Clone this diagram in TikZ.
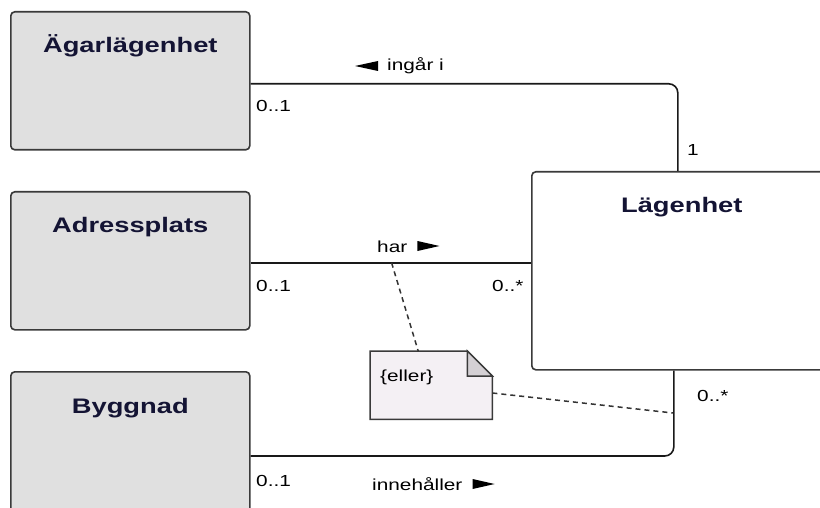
\documentclass[tikz,border=0pt]{standalone}
\usepackage{fontspec}
\setmainfont{Liberation Sans}
\newfontfamily\labfont[FakeStretch=1.3]{Liberation Sans}
\usetikzlibrary{calc}
\definecolor{boxfill}{HTML}{E0E0E0}
\definecolor{boxline}{HTML}{3A3A3A}
\definecolor{notefill}{HTML}{F4F0F4}
\definecolor{foldfill}{HTML}{D4D0D4}
\definecolor{titlecol}{HTML}{141434}
\begin{document}
\begin{tikzpicture}[x=1pt,y=-1pt,
  classbox/.style={draw=boxline, line width=1.6pt, fill=boxfill, rounded corners=4pt,
    minimum width=239pt, minimum height=138pt, inner sep=0pt, anchor=north west},
  title/.style={font=\labfont\bfseries\fontsize{21}{24}\selectfont, text=titlecol, anchor=base, inner sep=0pt},
  conn/.style={line width=1.6pt, black!90, rounded corners=9pt},
  mult/.style={font=\labfont\fontsize{16}{18}\selectfont, anchor=base west, inner sep=0pt, text=black},
  notedash/.style={dash pattern=on 5pt off 4pt, line width=1.5pt, black!80},
  noteline/.style={draw=boxline, line width=1.5pt}]
\useasboundingbox (0,0) rectangle (820,508);
% classes
\node[classbox] (agar) at (10,11) {};
\node[title] at ($(agar.north)+(0,42)$) {Ägarlägenhet};
\node[classbox] (adr) at (10,191) {};
\node[title] at ($(adr.north)+(0,42)$) {Adressplats};
\node[classbox, minimum height=150pt] (byg) at (10,371) {};
\node[title] at ($(byg.north)+(0,42)$) {Byggnad};
\node[classbox, fill=white, minimum width=300pt, minimum height=198pt] (lag) at (531,171) {};
\node[title] at ($(lag.north)+(0,42)$) {Lägenhet};
% connectors
\coordinate (a1) at ([yshift=-3pt]agar.east);
\draw[conn] (a1) -| ([xshift=-4pt]lag.north);
\coordinate (a2) at ([yshift=-2pt]adr.east);
\draw[conn] (a2) -- (a2 -| lag.west);
\coordinate (a3) at ($(byg.north east)+(0,85)$);
\draw[conn] (a3) -| ([xshift=-8pt]lag.south);
\coordinate (h1) at ($(a2)+(141,0)$);
\coordinate (c3) at (673,413);
% labels
\node[mult] (lab1) at (387,71) {ingår i};
\fill[shift={(lab1.base west)}] (-9,-10) -- (-32,-5) -- (-9,0) -- cycle;
\node[mult] (lab2) at (377,252) {har};
\fill[shift={(lab2.base east)}] (10,-11) -- (32,-6) -- (10,-1) -- cycle;
\node[mult] (lab3) at (372,490) {innehåller};
\fill[shift={(lab3.base east)}] (10,-11) -- (32,-6) -- (10,-1) -- cycle;
\node[mult] (m1) at (256,112) {0..1};
\node[mult] (m2) at (687,156) {1};
\node[mult] (m3) at (256,291) {0..1};
\node[mult] (m4) at (492,291) {0..*};
\node[mult] (m5) at (256,486) {0..1};
\node[mult] (m6) at (697,401) {0..*};
% note
\node[minimum width=122pt, minimum height=68pt, anchor=north west, inner sep=0pt] (note) at (370,351) {};
\filldraw[noteline, fill=notefill] (note.north west) -- ([xshift=-25pt]note.north east) -- ([yshift=-25pt]note.north east) -- (note.south east) -- (note.south west) -- cycle;
\filldraw[noteline, fill=foldfill] ([xshift=-25pt]note.north east) -- ([xshift=-25pt,yshift=-25pt]note.north east) -- ([yshift=-25pt]note.north east) -- cycle;
\node[mult] (eller) at (380,381) {\{eller\}};
\draw[notedash] (h1) -- ([xshift=-13pt]note.north);
\draw[notedash] ([yshift=-42pt]note.north east) -- (c3);
\end{tikzpicture}
\end{document}
